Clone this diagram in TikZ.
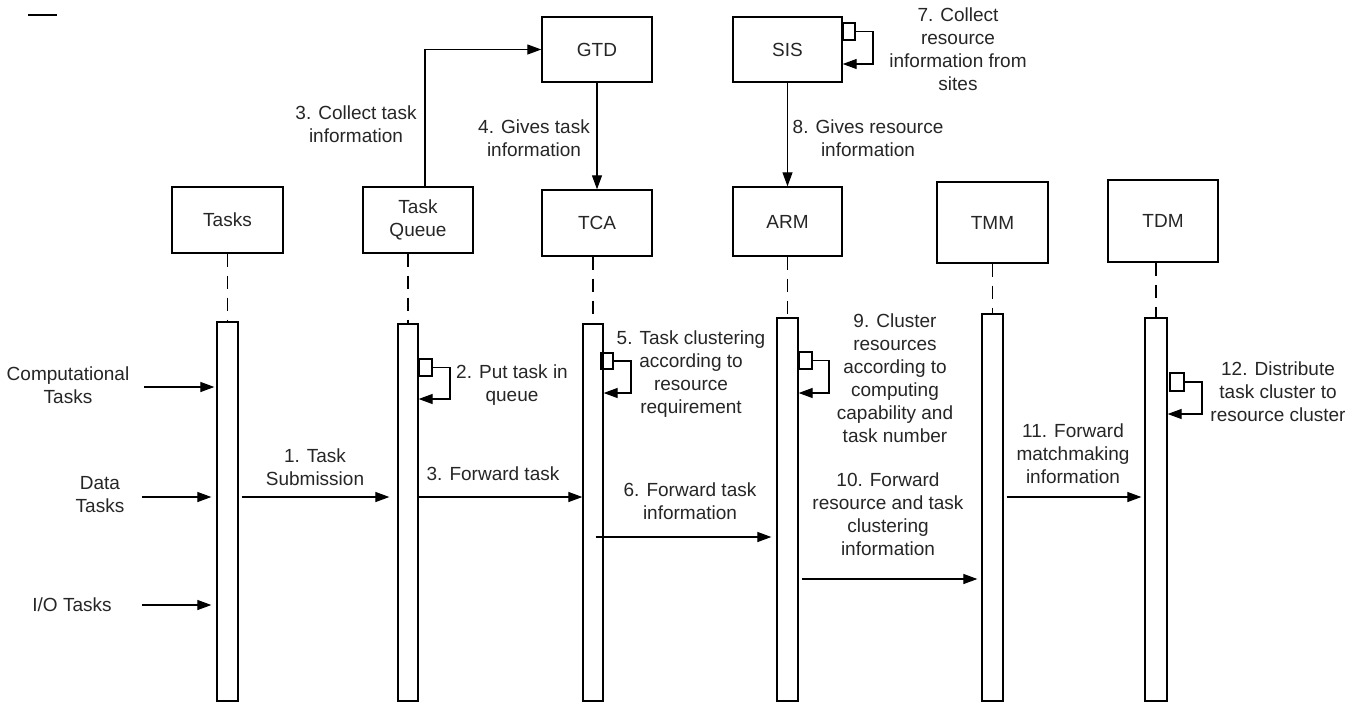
\documentclass[tikz,border=0pt]{standalone}
\usepackage{fontspec}
\setmainfont{Liberation Sans}
\usetikzlibrary{arrows.meta,calc}
\begin{document}
\begin{tikzpicture}[x=1pt,y=-1pt,
  font=\fontsize{19}{23}\selectfont,
  obj/.style={draw,line width=1.4pt,rectangle,inner sep=0pt,align=center,text=black!85},
  bar/.style={draw,line width=1.3pt,rectangle,inner sep=0pt,minimum width=21pt,fill=white},
  sbox/.style={draw,line width=1.2pt,rectangle,inner sep=0pt,minimum width=13pt,minimum height=17pt},
  lbl/.style={align=center,inner sep=0pt,text=black!85},
  arr/.style={line width=1.2pt,-{Triangle[length=14pt,width=10pt]}},
  lifeline/.style={line width=1.4pt,dash pattern=on 13pt off 9pt}]
\useasboundingbox[fill=white] (0,0) rectangle (1364,702);

% top-left stroke
\draw[line width=1.4pt] (28,15) -- (57,15);

% objects
\node[obj,minimum width=111pt,minimum height=66pt] (tasks) at (227.5,220) {Tasks};
\node[obj,minimum width=110pt,minimum height=66pt] (tq) at (418,220) {Task\\Queue};
\node[obj,minimum width=110pt,minimum height=65pt] (gtd) at (597,49.5) {GTD};
\node[obj,minimum width=109pt,minimum height=65pt] (sis) at (787.5,49.5) {SIS};
\node[obj,minimum width=110pt,minimum height=66pt] (tca) at (597,223) {TCA};
\node[obj,minimum width=109pt,minimum height=69pt] (arm) at (787.5,221.5) {ARM};
\node[obj,minimum width=111pt,minimum height=81pt] (tmm) at (992.5,222.5) {TMM};
\node[obj,minimum width=110pt,minimum height=82pt] (tdm) at (1163,221) {TDM};

% activation bars
\node[bar,minimum height=379pt] (b1) at (227.5,511.5) {};
\node[bar,minimum width=20pt,minimum height=377pt] (b2) at (408,512.5) {};
\node[bar,minimum width=20pt,minimum height=377pt] (b3) at (593,512.5) {};
\node[bar,minimum height=383pt] (b4) at (787.5,509.5) {};
\node[bar,minimum height=387pt] (b5) at (992.5,507.5) {};
\node[bar,minimum width=22pt,minimum height=383pt] (b6) at (1156,509.5) {};

% lifelines
\draw[lifeline] (tasks.south -| b1.north) -- (b1.north);
\draw[lifeline] (tq.south -| b2.north) -- (b2.north);
\draw[lifeline] (tca.south -| b3.north) -- (b3.north);
\draw[lifeline] (arm.south -| b4.north) -- (b4.north);
\draw[lifeline] (tmm.south -| b5.north) -- (b5.north);
\draw[lifeline] (tdm.south -| b6.north) -- (b6.north);

% message rows
\coordinate (ic) at (144,387);
\coordinate (id) at (142,497);
\coordinate (iio) at (142,605);
\coordinate (y6) at (0,537);
\coordinate (y10) at (0,579);

% input arrows
\draw[arr,shorten >=2pt] (ic) -- (b1.west |- ic);
\draw[arr,shorten >=5pt] (id) -- (b1.west |- id);
\draw[arr,shorten >=5pt] (iio) -- (b1.west |- iio);

% messages
\draw[arr,shorten <=3pt,shorten >=8pt] (b1.east |- id) -- (b2.west |- id);
\draw[arr] (b2.east |- id) -- (b3.west |- id);
\draw[arr,shorten <=-8pt,shorten >=5pt] (b3.east |- y6) -- (b4.west |- y6);
\draw[arr,shorten <=3pt,shorten >=4pt] (b4.east |- y10) -- (b5.west |- y10);
\draw[arr,shorten <=3pt,shorten >=3pt] (b5.east |- id) -- (b6.west |- id);

% vertical / top arrows
\draw[arr] ([xshift=7pt]tq.north) |- (gtd.west);
\draw[arr] (gtd.south) -- (tca.north);
\draw[arr] (sis.south) -- (arm.north);

% self loops
\node[sbox,minimum width=12pt] (s7) at (849,31.5) {};
\coordinate (r7) at (873,64);
\draw[arr] (s7.east) -| (r7) -- (sis.east |- r7);

\node[sbox] (s2) at (425.5,367.5) {};
\coordinate (r2) at (450,399);
\draw[arr] (s2.east) -| (r2) -- (b2.east |- r2);

\node[sbox,minimum width=12pt,minimum height=16pt] (s5) at (607,361) {};
\coordinate (r5) at (631,393);
\draw[arr] (s5.east) -| (r5) -- (b3.east |- r5);

\node[sbox] (s9) at (805.5,360.5) {};
\coordinate (r9) at (829,393);
\draw[arr] (s9.east) -| (r9) -- (b4.east |- r9);

\node[sbox,minimum width=14pt,minimum height=18pt] (s12) at (1177,382) {};
\coordinate (r12) at (1202,414);
\draw[arr] (s12.east) -| (r12) -- (b6.east |- r12);

% labels
\node[lbl] (lc) at (68,385) {Computational\\Tasks};
\node[lbl] (ld) at (100,495) {Data\\Tasks};
\node[lbl] (lio) at (72,605) {I/O Tasks};
\node[lbl] (l1) at (315,467) {1. Task\\Submission};
\node[lbl] (l2) at (512,385) {2. Put task in\\queue};
\node[lbl] (l3f) at (493,474) {3. Forward task};
\node[lbl] (l3c) at (356,124.5) {3. Collect task\\information};
\node[lbl] (l4) at (534,138.5) {4. Gives task\\information};
\node[lbl] (l5) at (691,374.5) {5. Task clustering\\according to\\resource\\requirement};
\node[lbl] (l6) at (690,501.5) {6. Forward task\\information};
\node[lbl] (l7) at (958,49) {7. Collect\\resource\\information from\\sites};
\node[lbl] (l8) at (868,138.5) {8. Gives resource\\information};
\node[lbl] (l9) at (895,378) {9. Cluster\\resources\\according to\\computing\\capability and\\task number};
\node[lbl] (l10) at (888,514.5) {10. Forward\\resource and task\\clustering\\information};
\node[lbl] (l11) at (1073,454) {11. Forward\\matchmaking\\information};
\node[lbl] (l12) at (1278,392) {12. Distribute\\task cluster to\\resource cluster};
\end{tikzpicture}
\end{document}
